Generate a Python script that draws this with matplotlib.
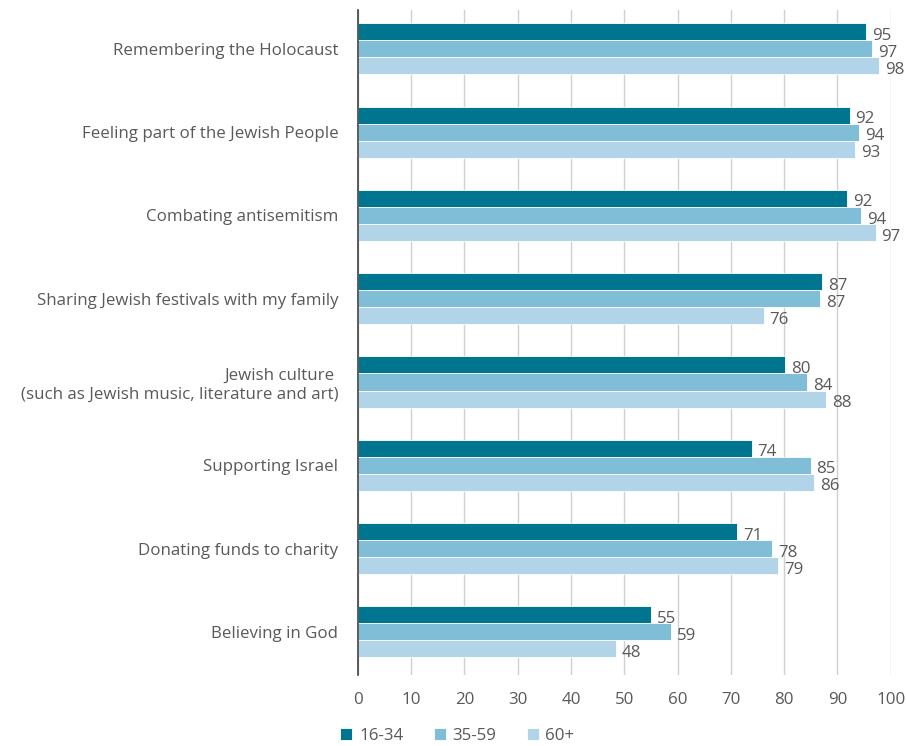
import matplotlib
matplotlib.use("Agg")
import matplotlib.pyplot as plt
import numpy as np

categories = [
    "Remembering the Holocaust",
    "Feeling part of the Jewish People",
    "Combating antisemitism",
    "Sharing Jewish festivals with my family",
    "Jewish culture \n(such as Jewish music, literature and art)",
    "Supporting Israel",
    "Donating funds to charity",
    "Believing in God",
]
series_names = ["16-34", "35-59", "60+"]
age_16_34 = [95.4, 92.3, 91.8, 87.2, 80.2, 73.9, 71.2, 55.1]
age_35_59 = [96.6, 94.1, 94.4, 86.8, 84.4, 85.0, 77.8, 58.8]
age_60_plus = [97.8, 93.4, 97.2, 76.2, 87.9, 85.7, 78.9, 48.5]
colors = ["#00758f", "#80bdd7", "#b2d4e8"]
xticks = [0, 10, 20, 30, 40, 50, 60, 70, 80, 90, 100]

plt.rcParams['font.family'] = ['Open Sans', 'DejaVu Sans']
text_color = "#595959"
fs = 12.2

fig = plt.figure(figsize=(9.06, 7.46), dpi=100)
ax = fig.add_axes([0.395, 0.095, 0.588, 0.892])

y = np.arange(len(categories))
h = 0.205
for k, (vals, c, name) in enumerate(zip([age_16_34, age_35_59, age_60_plus], colors, series_names)):
    pos = y + (k - 1) * h
    ax.barh(pos, vals, height=h, color=c, edgecolor="white", linewidth=0.6, label=name, zorder=3)
    for p, v in zip(pos, vals):
        ax.text(v + 1.1, p + 0.05, f"{round(v)}", va="center", ha="left",
                fontsize=fs, color=text_color, zorder=4)

ax.set_xlim(0, 100)
ax.set_ylim(7.52, -0.47)
ax.set_xticks(xticks)
ax.set_xticklabels([str(t) for t in xticks])
ax.set_yticks(y)
ax.set_yticklabels(categories, multialignment="right")
ax.tick_params(axis="y", length=0, pad=14, labelsize=fs, labelcolor=text_color)
ax.tick_params(axis="x", length=0, pad=12, labelsize=fs, labelcolor=text_color)
ax.grid(axis="x", color="#d0d0d0", linewidth=1, zorder=0)
for s in ["top", "right", "bottom"]:
    ax.spines[s].set_visible(False)
ax.spines["left"].set_color("#404040")
ax.spines["left"].set_linewidth(1.2)
ax.spines["left"].set_zorder(5)

leg = fig.legend(loc="lower center", bbox_to_anchor=(0.505, -0.018), ncol=3, frameon=False,
                 fontsize=fs, handlelength=0.7, handleheight=0.7, columnspacing=1.8,
                 handletextpad=0.4, labelcolor=text_color)

fig.savefig("out.png", dpi=100)
